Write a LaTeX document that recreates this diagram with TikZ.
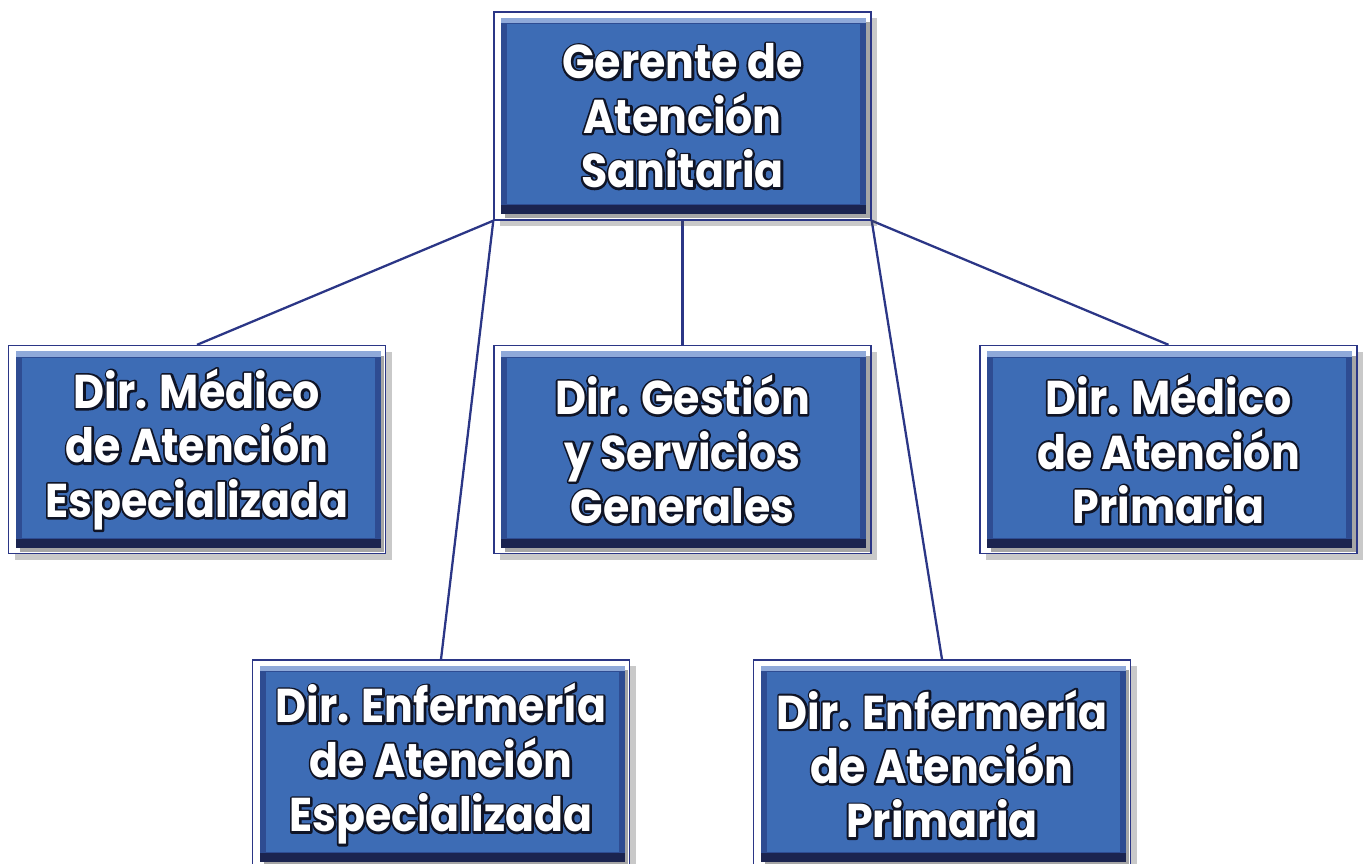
\documentclass[tikz,border=0pt]{standalone}
\usepackage{fontspec}
\newfontfamily\cargofont{Poppins}[FakeStretch=0.9]
\usetikzlibrary{shadows,backgrounds}
\definecolor{marino}{HTML}{2B3686}
\definecolor{azulcaja}{HTML}{3D6CB5}
\definecolor{azulmedio}{HTML}{2E4C92}
\definecolor{azuloscuro}{HTML}{1B2450}
\definecolor{azulclaro}{HTML}{8FA9D9}
% contorno oscuro de las letras: primero el borde, luego el relleno blanco
\newcommand{\rotulo}[1]{\leavevmode\rlap{\special{pdf:code 1 Tr 2.4 w 1 J 1 j 0.06 0.08 0.15 RG}#1\special{pdf:code 0 Tr}}#1}
\tikzset{
  cargo/.style={draw=marino, line width=0.8pt, fill=white,
    minimum width=7.54cm, minimum height=4.16cm, inner sep=0pt,
    align=center, text=white,
    font=\cargofont\bfseries\fontsize{27}{31}\selectfont,
    drop shadow={shadow xshift=0.12cm, shadow yshift=-0.12cm, opacity=0.3, fill=black!70},
    path picture={
      \fill[black, opacity=0.35] ([shift={(0.22,0.04)}]path picture bounding box.south west)
        rectangle ([shift={(-0.03,-0.2)}]path picture bounding box.north east);
      \fill[azulmedio] ([shift={(0.14,0.12)}]path picture bounding box.south west)
        rectangle ([shift={(-0.1,-0.11)}]path picture bounding box.north east);
      \fill[azuloscuro] ([shift={(0.14,0.12)}]path picture bounding box.south west)
        rectangle ([shift={(-0.1,0.3)}]path picture bounding box.south east);
      \fill[azulclaro] ([shift={(0.14,-0.22)}]path picture bounding box.north west)
        rectangle ([shift={(-0.1,-0.11)}]path picture bounding box.north east);
      \fill[azulcaja] ([shift={(0.26,0.32)}]path picture bounding box.south west)
        rectangle ([shift={(-0.22,-0.24)}]path picture bounding box.north east);
    }},
  linea/.style={draw=marino, line width=1.3pt}
}
\begin{document}
\begin{tikzpicture}
\useasboundingbox (0,0) rectangle (27.28,-17.26);
% cajas del organigrama
\node[cargo] (gerente) at (13.65,-2.32) {\rotulo{Gerente de}\\\rotulo{Atención}\\\rotulo{Sanitaria}};
\node[cargo] (medEsp) at (3.94,-8.99) {\rotulo{Dir. Médico}\\\rotulo{de Atención}\\\rotulo{Especializada}};
\node[cargo] (gestion) at (13.65,-8.99) {\rotulo{Dir. Gestión}\\\rotulo{y Servicios}\\\rotulo{Generales}};
\node[cargo] (medPrim) at (23.37,-8.99) {\rotulo{Dir. Médico}\\\rotulo{de Atención}\\\rotulo{Primaria}};
\node[cargo] (enfEsp) at (8.82,-15.28) {\rotulo{Dir. Enfermería}\\\rotulo{de Atención}\\\rotulo{Especializada}};
\node[cargo] (enfPrim) at (18.84,-15.28) {\rotulo{Dir. Enfermería}\\\rotulo{de Atención}\\\rotulo{Primaria}};
% conexiones
\begin{scope}[on background layer]
\foreach \x in {medEsp,enfEsp} {\draw[linea] (gerente.south west)--(\x.north);}
\draw[linea] (gerente.south)--(gestion.north);
\foreach \x in {medPrim,enfPrim} {\draw[linea] (gerente.south east)--(\x.north);}
\end{scope}
\end{tikzpicture}
\end{document}
